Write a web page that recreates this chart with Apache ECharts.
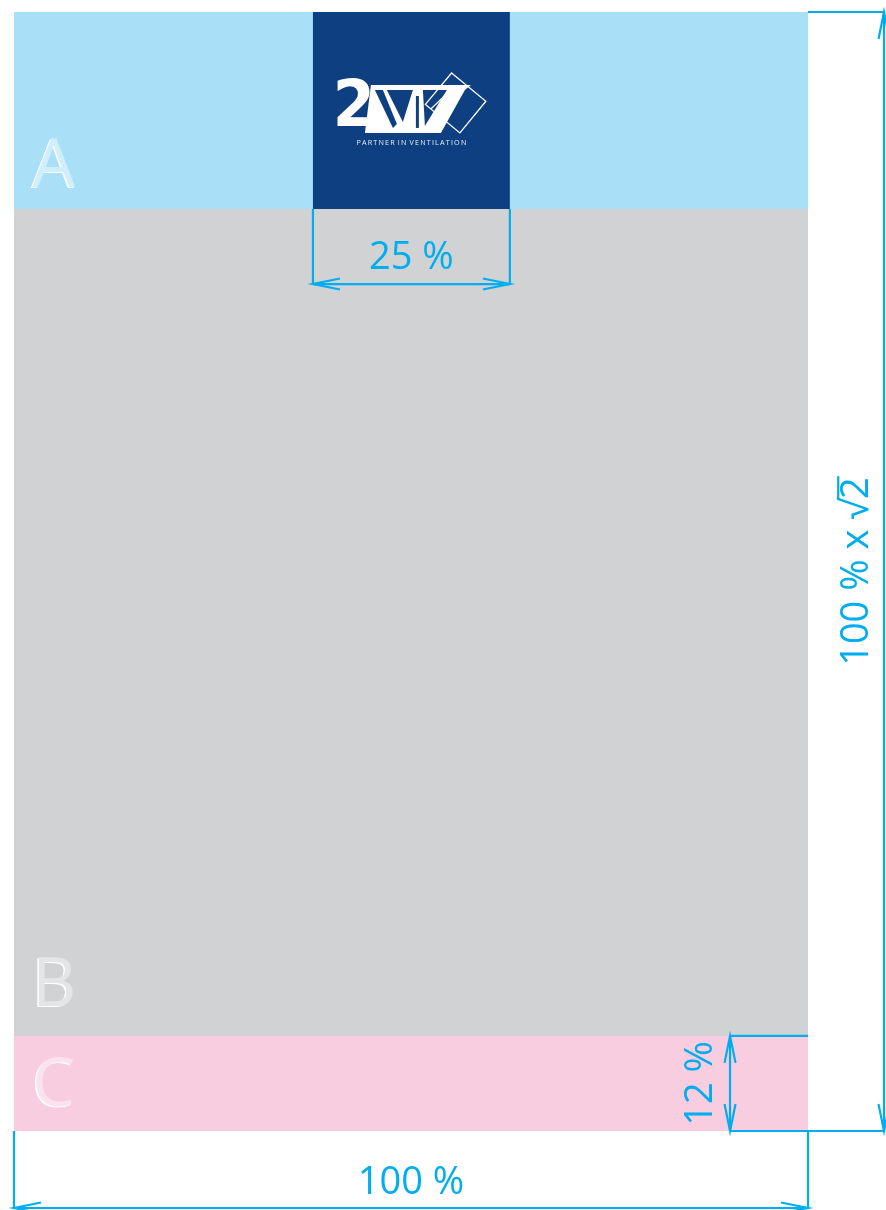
<!DOCTYPE html>
<html><head><meta charset="utf-8">
<script src="https://cdn.jsdelivr.net/npm/echarts@6/dist/echarts.min.js"></script>
<style>html,body{margin:0;padding:0;background:#fff}#c{width:886px;height:1210px}</style>
</head><body><div id="c"></div>
<script>
// ---- data (page units: width = 100, height = 100 x sqrt(2)) ----
const pageWidth = 100;
const pageHeight = 141.42;
const zoneLabels = ['A', 'B', 'C'];
const zoneTop = [0, 24.9, 129.4];
const zoneBottom = [24.9, 129.4, 141.42];
const logoSpan = [37.65, 62.45];            // logo block, x extent
const logoHeight = [0, 24.9];               // logo block, y extent
const dimLabels = ['25 %', '100 %', '100 % x √2', '12 %'];
const dimAxis = ['x', 'x', 'y', 'y'];
const dimStart = [37.65, 0, 0, 129.4];
const dimEnd = [62.45, 100, 141.42, 141.42];

// ---- layout (not data) ----
const dimLinePos = [34.38, 151.15, 109.57, 90.18];
const dimExtStart = [24.9, 141.42, 100, 100];
const dimExtEnd = [24.9, 141.42, 90.18, 100];
const dimTextPos = [31.1, 148.0, 106.2, 86.6];
const zoneColors = ['#aae0f7', '#d1d2d4', '#f8cde0'];
const zoneTints = ['#d0eefb', '#e4e5e6', '#fbe3ee'];
const letterPos = [19.7, 123.2, 135.8];
const cyan = '#00aeef';
const navy = '#0e3f80';

const chart = echarts.init(document.getElementById('c'), null, {renderer: 'canvas'});

function renderZone(params, api) {
  const i = api.value(0);
  const p0 = api.coord([0, zoneTop[i]]);
  const p1 = api.coord([pageWidth, zoneBottom[i]]);
  const lp = api.coord([2.3, letterPos[i]]);
  const base = {text: zoneLabels[i], fontSize: 68, fontFamily: 'Open Sans', align: 'left', verticalAlign: 'middle'};
  return {type: 'group', children: [
    {type: 'rect', shape: {x: p0[0], y: p0[1], width: p1[0] - p0[0], height: p1[1] - p0[1]}, style: {fill: zoneColors[i]}},
    {type: 'text', x: lp[0] - 1.5, y: lp[1] + 0.8, style: Object.assign({fill: '#ffffff'}, base)},
    {type: 'text', x: lp[0], y: lp[1], style: Object.assign({fill: zoneTints[i]}, base)}
  ]};
}

function renderLogo(params, api) {
  const p0 = api.coord([logoSpan[0], logoHeight[0]]);
  const p1 = api.coord([logoSpan[1], logoHeight[1]]);
  const w = p1[0] - p0[0], h = p1[1] - p0[1];
  const s = w / 197;
  const white = '#ffffff';
  const sp = '\u2009';
  const tag = 'PARTNER IN VENTILATION'.split(' ').map(wd => wd.split('').join(sp)).join(' ' + sp);
  return {type: 'group', children: [
    {type: 'rect', shape: {x: p0[0], y: p0[1], width: w, height: h}, style: {fill: navy}},
    {type: 'group', x: p0[0], y: p0[1], scaleX: s, scaleY: s, children: [
      {type: 'polygon', shape: {points: [[58, 73], [158, 73], [152, 78], [128, 121], [52, 121]]}, style: {fill: white}},
      {type: 'text', x: 41, y: 97, scaleX: 0.95, style: {text: '2', fill: white, fontSize: 64, fontWeight: 'bold', fontFamily: 'DejaVu Sans', align: 'center', verticalAlign: 'middle'}},
      {type: 'polygon', shape: {points: [[62, 78], [70, 78], [84, 112], [80, 116]]}, style: {fill: navy}},
      {type: 'polygon', shape: {points: [[74, 78], [100, 78], [90, 110]]}, style: {fill: navy}},
      {type: 'polygon', shape: {points: [[103, 84], [106, 84], [106, 116], [103, 116]]}, style: {fill: navy}},
      {type: 'polygon', shape: {points: [[110, 78], [134, 78], [112, 114]]}, style: {fill: navy}},
      {type: 'polygon', shape: {points: [[138.7, 61], [173, 89.3], [147, 121], [112.5, 92.5]]}, style: {stroke: white, lineWidth: 1.3, fill: null}},
      {type: 'polyline', shape: {points: [[118, 97], [141, 75], [155, 74]]}, style: {stroke: white, lineWidth: 1.3, fill: null}},
      {type: 'text', x: 98.5, y: 131, style: {text: tag, fill: '#e6edf6', fontSize: 7.2, fontFamily: 'Open Sans', align: 'center', verticalAlign: 'middle'}}
    ]}
  ]};
}

const AL = 27, AW = 5.5;
function renderDim(params, api) {
  const i = api.value(0);
  const ch = [];
  const line = pts => ch.push({type: 'polyline', shape: {points: pts}, style: {stroke: cyan, lineWidth: 2.2, fill: null}});
  const txtStyle = {text: dimLabels[i], fill: cyan, fontSize: 38, fontFamily: 'Open Sans', align: 'center', verticalAlign: 'middle'};
  if (dimAxis[i] === 'x') {
    const y = dimLinePos[i];
    const a = api.coord([dimStart[i], y]), b = api.coord([dimEnd[i], y]);
    line([api.coord([dimStart[i], dimExtStart[i]]), a]);
    line([api.coord([dimEnd[i], dimExtEnd[i]]), b]);
    line([a, b]);
    line([[a[0] + AL, a[1] - AW], a, [a[0] + AL, a[1] + AW]]);
    line([[b[0] - AL, b[1] - AW], b, [b[0] - AL, b[1] + AW]]);
    const t = api.coord([(dimStart[i] + dimEnd[i]) / 2, dimTextPos[i]]);
    ch.push({type: 'text', x: t[0], y: t[1], style: txtStyle});
  } else {
    const x = dimLinePos[i];
    const a = api.coord([x, dimStart[i]]), b = api.coord([x, dimEnd[i]]);
    line([api.coord([dimExtStart[i], dimStart[i]]), a]);
    line([api.coord([dimExtEnd[i], dimEnd[i]]), b]);
    line([a, b]);
    line([[a[0] - AW, a[1] + AL], a, [a[0] + AW, a[1] + AL]]);
    line([[b[0] - AW, b[1] - AL], b, [b[0] + AW, b[1] - AL]]);
    const t = api.coord([dimTextPos[i], (dimStart[i] + dimEnd[i]) / 2]);
    const g = {type: 'group', x: t[0], y: t[1], rotation: Math.PI / 2, children: [{type: 'text', x: 0, y: 0, style: txtStyle}]};
    if (dimLabels[i].indexOf('√') >= 0) {
      const ctx = document.createElement('canvas').getContext('2d');
      ctx.font = '38px "Open Sans"';
      const W = ctx.measureText(dimLabels[i]).width;
      const w2 = ctx.measureText('2').width;
      g.children.push({type: 'line', shape: {x1: W / 2 - w2 - 1, y1: -19, x2: W / 2 + 1, y2: -19}, style: {stroke: cyan, lineWidth: 2.2}});
    }
    ch.push(g);
  }
  return {type: 'group', children: ch};
}

chart.setOption({
  animation: false,
  grid: {left: 14, top: 12, width: 794, height: 1119},
  xAxis: {type: 'value', min: 0, max: pageWidth, show: false},
  yAxis: {type: 'value', min: 0, max: pageHeight, inverse: true, show: false},
  series: [
    {type: 'custom', renderItem: renderZone, data: zoneLabels.map((_, i) => [i]), silent: true},
    {type: 'custom', renderItem: renderLogo, data: [[0]], silent: true},
    {type: 'custom', renderItem: renderDim, data: dimLabels.map((_, i) => [i]), silent: true}
  ]
});
</script>
</body></html>
